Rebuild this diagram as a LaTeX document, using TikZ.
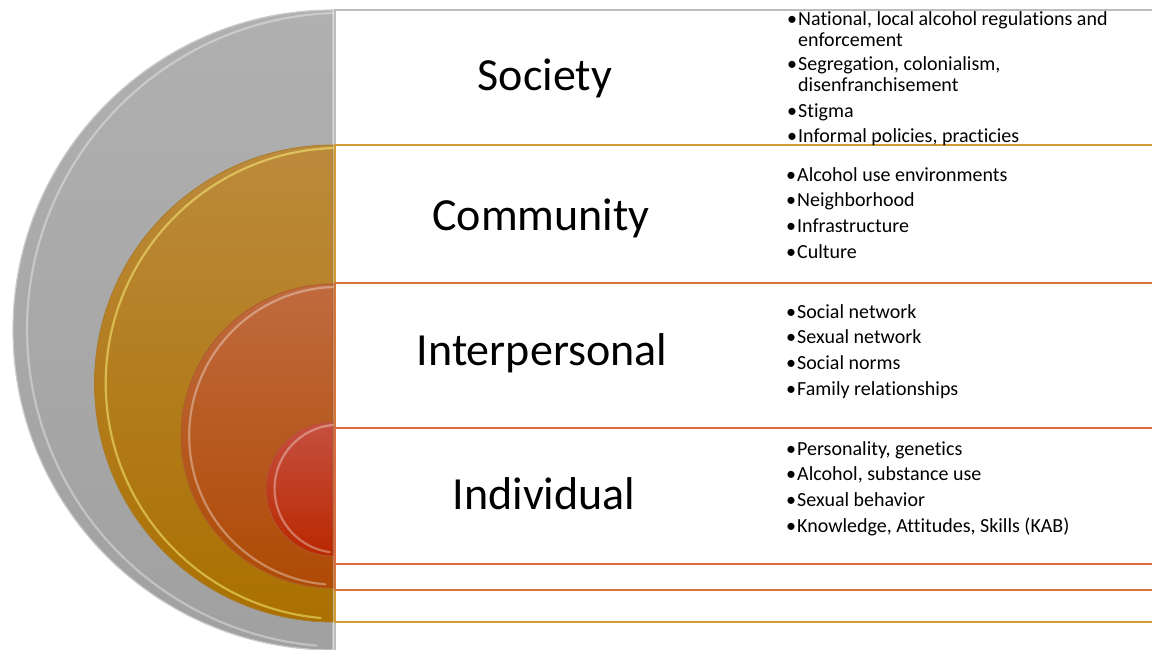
\documentclass[tikz,border=0pt]{standalone}
\usepackage{fontspec}
\setmainfont[Ligatures=NoCommon]{Carlito}

\definecolor{socgray}{HTML}{BDBDBD}
\definecolor{comgold}{HTML}{D39B35}
\definecolor{intorange}{HTML}{D8743A}
\definecolor{indred}{HTML}{DC6B40}

\tikzstyle{level name}=[font=\fontsize{46}{50}\selectfont, anchor=base, inner sep=0pt]
\tikzstyle{factor}=[font=\fontsize{20}{21}\selectfont, anchor=base west, inner sep=0pt]
\tikzstyle{band}=[fill=white, line width=1.5pt]
\tikzstyle{rim}=[white, line width=2.2pt, opacity=0.35, line cap=round]

\newcommand{\bul}[1]{\llap{\textbullet\kern1pt}#1}

\begin{document}
\begin{tikzpicture}[x=1pt, y=-1pt]
    \useasboundingbox (0,0) rectangle (1152,649);
    \clip (0,0) rectangle (1152,649);

    % bands, outermost first
    \draw[band, draw=socgray]   (335,10)  rectangle (1170,660);
    \draw[band, draw=comgold]   (335,145) rectangle (1170,622);
    \draw[band, draw=intorange] (335,283) rectangle (1170,590);
    \draw[band, draw=indred]    (335,428) rectangle (1170,564);

    % half discs
    \shade[top color=black!31, bottom color=black!37, draw=black!20, line width=1.2pt]
        (333,10) arc[start angle=-90, end angle=-270, radius=320] -- cycle;
    \draw[rim] (333,13) arc[start angle=-92, end angle=-265, radius=317];

    \shade[top color={rgb,255:red,188;green,138;blue,60}, bottom color={rgb,255:red,170;green,112;blue,0}, draw=comgold!80!black, line width=0.8pt]
        (333,145) arc[start angle=-90, end angle=-270, radius=238.5] -- cycle;
    \draw[rim, yellow!50!white, opacity=0.5] (333,148) arc[start angle=-92, end angle=-265, radius=235.5];

    \shade[top color={rgb,255:red,192;green,106;blue,62}, bottom color={rgb,255:red,174;green,74;blue,4}, draw=intorange!80!black, line width=0.8pt]
        (333,284) arc[start angle=-90, end angle=-270, radius=152] -- cycle;
    \draw[rim] (333,287) arc[start angle=-92, end angle=-265, radius=149];

    \shade[top color={rgb,255:red,198;green,80;blue,64}, bottom color={rgb,255:red,185;green,40;blue,0}, draw=indred!80!black, line width=0.8pt]
        (333,422) arc[start angle=-90, end angle=-270, radius=67] -- cycle;
    \draw[rim] (333,425) arc[start angle=-95, end angle=-262, radius=64];

    % level names
    \node[level name] (society)       at (545,90)  {Society};
    \node[level name] (community)     at (541,230) {Community};
    \node[level name] (interpersonal) at (542,365) {Interpersonal};
    \node[level name] (individual)    at (544,509) {Individual};

    % factors per level
    \node[factor] (soc-1) at (798,25)  {\bul{\parbox[t]{340pt}{National, local alcohol regulations and\\enforcement}}};
    \node[factor] (soc-2) at (798,70)  {\bul{\parbox[t]{340pt}{Segregation, colonialism,\\disenfranchisement}}};
    \node[factor] (soc-3) at (798,117) {\bul{Stigma}};
    \node[factor] (soc-4) at (798,142) {\bul{Informal policies, practicies}};

    \foreach \txt [count=\i] in {Alcohol use environments, Neighborhood, Infrastructure, Culture}
        \node[factor] (com-\i) at (797,{181+25.7*(\i-1)}) {\bul{\txt}};

    \foreach \txt [count=\i] in {Social network, Sexual network, Social norms, Family relationships}
        \node[factor] (int-\i) at (797,{318+25.7*(\i-1)}) {\bul{\txt}};

    \foreach \txt [count=\i] in {{Personality, genetics}, {Alcohol, substance use}, Sexual behavior, {Knowledge, Attitudes, Skills (KAB)}}
        \node[factor] (ind-\i) at (797,{455+25.7*(\i-1)}) {\bul{\txt}};
\end{tikzpicture}
\end{document}
